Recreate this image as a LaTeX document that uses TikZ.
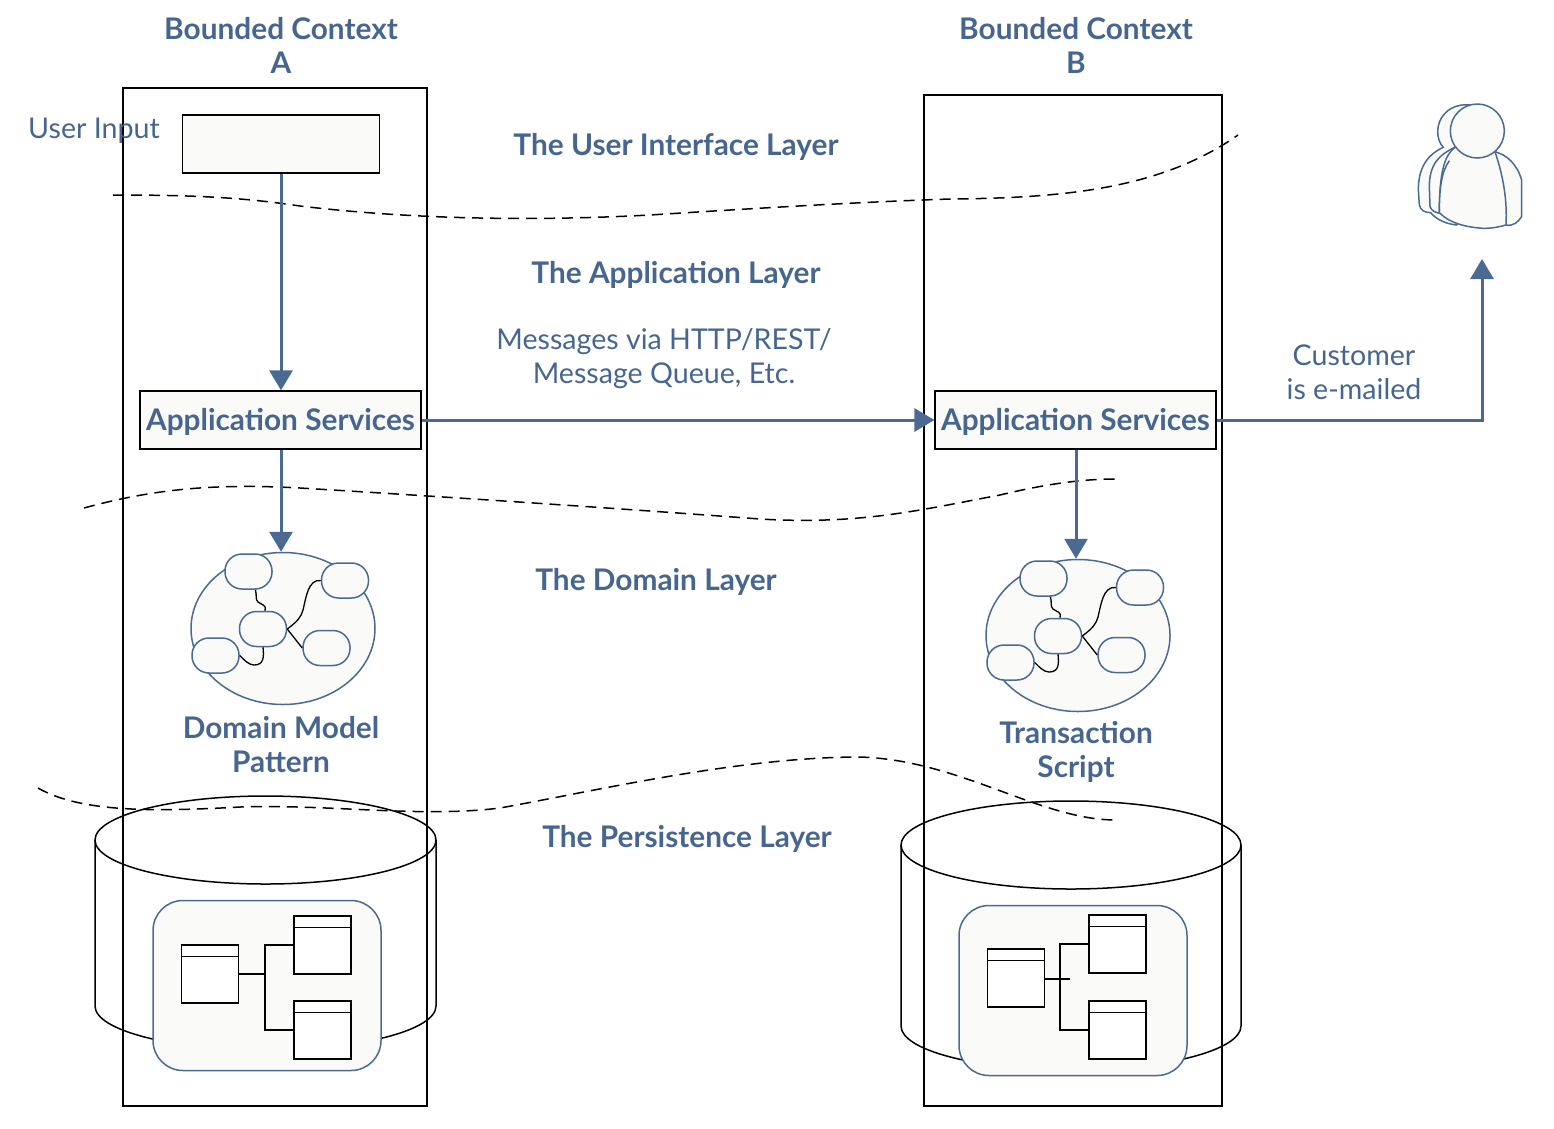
\documentclass[tikz,border=0pt]{standalone}
\usepackage{fontspec}
\setmainfont{Lato}
\usetikzlibrary{arrows.meta,calc,shapes.geometric}
\definecolor{bluetx}{HTML}{47668F}
\definecolor{blueln}{HTML}{4A6A94}
\definecolor{paper}{HTML}{FAFAF8}
\tikzset{
  ctxbox/.style={draw=black,line width=1.2pt,fill=none},
  svcbox/.style={draw=black,line width=1.2pt,fill=paper,inner sep=0pt,text=bluetx,font=\fontsize{29.8}{34}\selectfont\bfseries},
  flow/.style={draw=blueln,line width=3pt,-{Triangle[length=20pt,width=23pt]}},
  bounds/.style={draw=black,line width=1.5pt,dash pattern=on 11pt off 7pt},
  lbl/.style={text=bluetx,align=center,inner sep=0pt,font=\fontsize{28.6}{34}\selectfont},
  head/.style={text=bluetx,align=center,inner sep=0pt,font=\fontsize{29.8}{34}\selectfont\bfseries},
  pill/.style={draw=blueln,line width=1.5pt,fill=paper,rounded corners=17pt,minimum width=47pt,minimum height=35pt,inner sep=0pt},
  blob/.style={draw=blueln,line width=1.5pt,fill=paper},
  wire/.style={draw=black,line width=1.3pt},
  classbx/.style={draw=black,line width=1.5pt,fill=white,minimum width=57pt,minimum height=58pt,inner sep=0pt},
  card/.style={draw=blueln,line width=1.5pt,fill=paper,rounded corners=30pt,minimum width=228pt,minimum height=170pt,inner sep=0pt},
  drum/.style={draw=black,line width=1.5pt,fill=none},
}
\newcommand{\domaincloud}[3]{%
  \begin{scope}[shift={(#2,#3)}]
    \node[blob,ellipse,minimum width=184pt,minimum height=152pt,inner sep=0pt] (#1ell) at (283,628.5) {};
    \node[pill] (#1tl) at (248.5,571.5) {};
    \node[pill] (#1tr) at (345,580.5) {};
    \node[pill] (#1mid) at (263,629) {};
    \node[pill] (#1bl) at (215.5,655.5) {};
    \node[pill] (#1br) at (326.5,648) {};
    \draw[wire] ($(#1tl.south)+(7,0)$) .. controls (257,596) and (255,599) .. (258,602) .. controls (262,605) and (267,605) .. ($(#1mid.north)+(2,0)$);
    \draw[wire] (#1mid.east) .. controls (298,621) and (301,617) .. (303,610) .. controls (306,598) and (308,579) .. (#1tr.west);
    \draw[wire] (#1mid.east) -- (#1br.west);
    \draw[wire] (#1mid.south) .. controls (264,657) and (264,665) .. (254,665) .. controls (249,665) and (244,660) .. (#1bl.east);
  \end{scope}}
\newcommand{\classnode}[3]{%
  \node[classbx] (#1) at (#2,#3) {};
  \draw[draw=black,line width=1.5pt] ($(#1.north west)+(0,12)$) -- ($(#1.north east)+(0,12)$);}
\begin{document}
\begin{tikzpicture}[x=1pt,y=-1pt]
\useasboundingbox (0,0) rectangle (1554,1128);
% cylinders
\draw[drum] (95,840) -- (95,1006) arc[start angle=180,end angle=0,x radius=170.5,y radius=44] -- (436,840);
\draw[drum] (265.5,840) ellipse[x radius=170.5,y radius=44];
\draw[drum] (901,845) -- (901,1026) arc[start angle=180,end angle=0,x radius=170,y radius=44] -- (1241,845);
\draw[drum] (1071,845) ellipse[x radius=170,y radius=44];
% contexts
\node[ctxbox,minimum width=304pt,minimum height=1018pt,inner sep=0pt] (ctxa) at (275,597) {};
\node[ctxbox,minimum width=298pt,minimum height=1011pt,inner sep=0pt] (ctxb) at (1073,600.5) {};
% headings
\node[head] (hdra) at (281,45) {Bounded Context\\A};
\node[head] (hdrb) at (1076,45) {Bounded Context\\B};
\node[lbl] (input) at (94,131) {User Input};
\node[svcbox,minimum width=197pt,minimum height=58pt] (ui) at (281,144) {};
\node[head] (lui) at (676,147) {The User Interface Layer};
\node[head] (lapp) at (676,275) {The Application Layer};
\node[lbl] (msg) at (664,359) {Messages via HTTP/REST/\\Message Queue, Etc.};
\node[lbl] (mail) at (1354,372) {Customer\\is e-mailed};
\node[svcbox,minimum width=281pt,minimum height=58pt,text height=26pt,text depth=6pt] (sa) at (280.5,420) {Application Services};
\node[svcbox,minimum width=281pt,minimum height=58pt,text height=26pt,text depth=6pt] (sb) at (1075.5,420) {Application Services};
\node[head] (ldom) at (656,582) {The Domain Layer};
\node[head] (lper) at (687,839) {The Persistence Layer};
\node[head] (dmp) at (281,745) {Domain Model\\Pattern};
\node[head] (ts) at (1076,752) {Transaction\\Script};
% clouds
\domaincloud{ca}{0}{0}
\domaincloud{cb}{795}{7}
% layer boundaries
\coordinate (d1a) at (113,195); \coordinate (d1b) at (1238,135);
\coordinate (d2a) at (84,508); \coordinate (d2b) at (1116,479);
\coordinate (d3a) at (38,788); \coordinate (d3b) at (1116,820);
\draw[bounds] (d1a) .. controls (190,195) and (240,197) .. (300,206) .. controls (400,218) and (520,222) .. (650,215) .. controls (760,208) and (860,202) .. (950,199) .. controls (1060,198) and (1160,190) .. (d1b);
\draw[bounds] (d2a) .. controls (150,490) and (210,483) .. (300,488) .. controls (450,497) and (640,510) .. (760,519) .. controls (860,525) and (920,510) .. (1000,495) .. controls (1050,483) and (1085,479) .. (d2b);
\draw[bounds] (d3a) .. controls (80,812) and (150,812) .. (240,807) .. controls (330,804) and (420,818) .. (500,808) .. controls (600,790) and (740,757) .. (860,757) .. controls (960,760) and (1040,820) .. (d3b);
% cards
\node[card] (carda) at (267,985.5) {};
\node[card] (cardb) at (1073,990.5) {};
\classnode{a1}{210}{974}
\classnode{a2}{322.5}{945}
\classnode{a3}{322.5}{1030}
\classnode{b1}{1016}{978}
\classnode{b2}{1117.5}{944}
\classnode{b3}{1117.5}{1030}
\coordinate (ja) at (265,974);
\coordinate (jb) at (1060,979);
\coordinate (stub) at (1070,979);
\draw[wire] (a1.east |- ja) -- (ja);
\draw[wire] (a2.west) -| (ja) |- (a3.west);
\draw[wire] (b1.east |- jb) -- (stub);
\draw[wire] (b2.west) -| (jb) |- (b3.west);
% person
\begin{scope}[shift={(1400,90)},x=.3333pt,y=-.3333pt]
  \draw[blob] (130,172) .. controls (108,150) and (105,100) .. (135,70) .. controls (155,48) and (185,42) .. (215,45) -- (260,120) -- (170,405) .. controls (140,402) and (110,390) .. (92,368) .. controls (75,368) and (62,362) .. (58,345) -- (55,300) .. controls (55,235) and (80,195) .. (130,172) -- cycle;
  \draw[blob] (165,172) .. controls (115,195) and (88,225) .. (88,290) -- (90,350) .. controls (95,362) and (105,368) .. (120,370) -- (200,300) -- cycle;
  \draw[blob] (120,370) .. controls (150,400) and (200,412) .. (250,415) .. controls (280,415) and (300,410) .. (318,405) .. controls (340,410) and (355,395) .. (365,380) -- (365,270) .. controls (350,220) and (320,195) .. (285,185) -- (165,172) .. controls (135,195) and (118,240) .. (118,370);
  \draw[blob] (148,212) .. controls (125,245) and (118,290) .. (118,370);
  \draw[blob] (285,185) .. controls (310,260) and (322,330) .. (318,405);
  \draw[blob] (232,123) circle[radius=81];
\end{scope}
% flows
\coordinate (mailtip) at (1482,259);
\draw[flow] (ui.south) -- (ui.south |- sa.north);
\draw[flow] (sa.east) -- (sb.west);
\draw[flow] (ui.south |- sa.south) -- (ui.south |- caell.north);
\draw[flow] (sb.south) ++(.5,0) -- ($(sb.south |- cbell.north)+(.5,0)$);
\draw[flow] (sb.east) -| (mailtip);
\end{tikzpicture}
\end{document}
